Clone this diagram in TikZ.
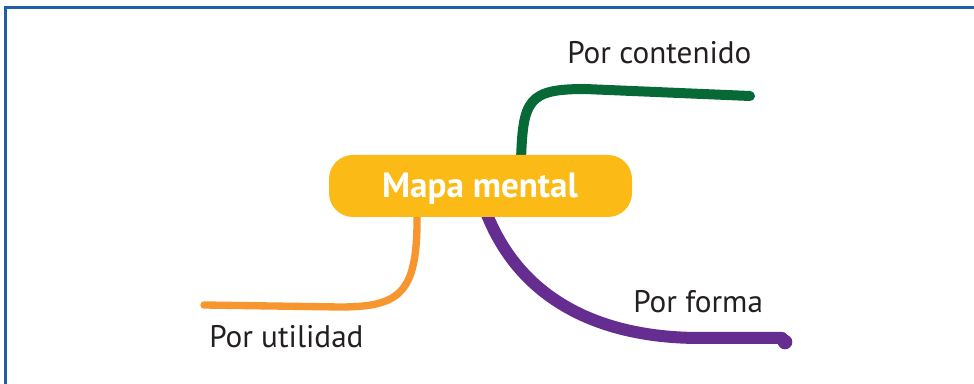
\documentclass[tikz,border=0pt]{standalone}
\usepackage{fontspec}
\setmainfont{PT Sans}
\usetikzlibrary{backgrounds}
\definecolor{boxyellow}{HTML}{FBBA16}
\definecolor{brgreen}{HTML}{076936}
\definecolor{brorange}{HTML}{F7962F}
\definecolor{brpurple}{HTML}{662D91}
\definecolor{txt}{HTML}{231F20}
\definecolor{frame}{HTML}{1F5FA8}
\tikzset{
  centralbox/.style={fill=boxyellow, rounded corners=18pt, minimum width=227.25pt, minimum height=46.5pt, inner sep=0pt},
  centraltext/.style={text=white, inner sep=0pt, font=\fontsize{26.3}{30}\selectfont\bfseries},
  branchlabel/.style={text=txt, inner sep=0pt, font=\fontsize{23.4}{28}\selectfont},
  branch/.style={line width=#1, line cap=round, line join=round},
}
\begin{document}
\begin{tikzpicture}[x=0.75pt, y=-0.75pt]
\useasboundingbox (0,0) rectangle (974,384);
\draw[frame, line width=1.6pt] (5.5,384) -- (5.5,7.5) -- (974,7.5);
\node[centralbox] (mm) at (480.5,186) {};
\node[centraltext, anchor=base] (mmt) at (480,198) {Mapa mental};
\node[branchlabel, anchor=base west] (lc) at (567,64) {Por contenido};
\node[branchlabel, anchor=base west] (lu) at (209,348) {Por utilidad};
\node[branchlabel, anchor=base west] (lf) at (633,313) {Por forma};
\coordinate (gs) at (521,160);
\coordinate (ge) at (750,96);
\coordinate (os) at (417,212);
\coordinate (oe) at (204,305);
\coordinate (ps) at (486,212);
\coordinate (pe) at (782,338);
\coordinate (pd) at (785,342);
\begin{scope}[on background layer]
\draw[brgreen, branch=7.5pt] (gs) .. controls (523,100) and (528,89) .. (585,89) -- (ge);
\draw[brorange, branch=5.5pt] (os) .. controls (418,292) and (402,307) .. (340,307) -- (oe);
\draw[brpurple, branch=9pt] (ps) .. controls (520,300) and (600,338) .. (700,338) -- (pe);
\fill[brpurple] (pd) circle (5.5pt);
\end{scope}
\end{tikzpicture}
\end{document}
